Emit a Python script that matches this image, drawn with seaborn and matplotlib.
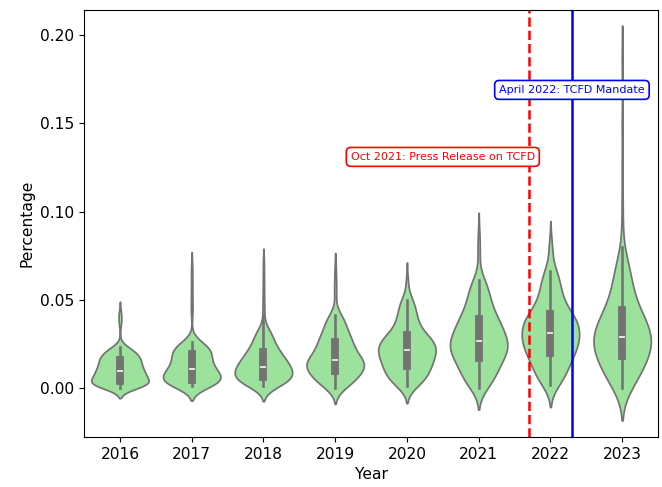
import numpy as np
import pandas as pd
import matplotlib
matplotlib.use("Agg")
import matplotlib.pyplot as plt
import seaborn as sns

years = ["2016", "2017", "2018", "2019", "2020", "2021", "2022", "2023"]

# Bulk of each year's distribution: sorted values, each standing for
# `core_weight` companies
core_weight = 4

core_2016 = [0.0000, 0.0005, 0.0009, 0.0013, 0.0017, 0.0020, 0.0024, 0.0027, 0.0030, 0.0033,
             0.0036, 0.0043, 0.0049, 0.0055, 0.0061, 0.0067, 0.0072, 0.0077, 0.0083, 0.0088,
             0.0093, 0.0099, 0.0105, 0.0111, 0.0117, 0.0124, 0.0131, 0.0138, 0.0144, 0.0152,
             0.0159, 0.0165, 0.0170, 0.0177, 0.0184, 0.0192, 0.0200, 0.0210, 0.0220, 0.0230]

core_2017 = [0.0008, 0.0013, 0.0018, 0.0022, 0.0026, 0.0030, 0.0034, 0.0037, 0.0041, 0.0044,
             0.0047, 0.0054, 0.0060, 0.0066, 0.0072, 0.0078, 0.0084, 0.0089, 0.0094, 0.0100,
             0.0105, 0.0113, 0.0120, 0.0128, 0.0137, 0.0145, 0.0153, 0.0162, 0.0171, 0.0181,
             0.0190, 0.0196, 0.0202, 0.0208, 0.0215, 0.0223, 0.0232, 0.0242, 0.0252, 0.0262]

core_2018 = [0.0008, 0.0015, 0.0022, 0.0028, 0.0034, 0.0040, 0.0045, 0.0050, 0.0055, 0.0060,
             0.0064, 0.0071, 0.0077, 0.0083, 0.0089, 0.0094, 0.0100, 0.0105, 0.0110, 0.0116,
             0.0121, 0.0128, 0.0135, 0.0142, 0.0149, 0.0156, 0.0164, 0.0172, 0.0180, 0.0188,
             0.0196, 0.0207, 0.0218, 0.0230, 0.0244, 0.0259, 0.0275, 0.0294, 0.0312, 0.0332]

core_2019 = [0.0000, 0.0013, 0.0025, 0.0035, 0.0046, 0.0055, 0.0065, 0.0074, 0.0082, 0.0090,
             0.0098, 0.0105, 0.0112, 0.0118, 0.0125, 0.0131, 0.0136, 0.0142, 0.0148, 0.0153,
             0.0159, 0.0168, 0.0178, 0.0187, 0.0197, 0.0207, 0.0218, 0.0229, 0.0239, 0.0251,
             0.0262, 0.0274, 0.0286, 0.0300, 0.0315, 0.0332, 0.0351, 0.0371, 0.0392, 0.0414]

core_2020 = [0.0008, 0.0023, 0.0037, 0.0050, 0.0062, 0.0074, 0.0085, 0.0096, 0.0106, 0.0116,
             0.0125, 0.0136, 0.0146, 0.0155, 0.0164, 0.0173, 0.0182, 0.0190, 0.0198, 0.0207,
             0.0215, 0.0222, 0.0230, 0.0238, 0.0245, 0.0254, 0.0262, 0.0270, 0.0279, 0.0288,
             0.0297, 0.0313, 0.0330, 0.0348, 0.0368, 0.0391, 0.0415, 0.0443, 0.0471, 0.0500]

core_2021 = [0.0000, 0.0022, 0.0042, 0.0060, 0.0078, 0.0095, 0.0111, 0.0126, 0.0140, 0.0155,
             0.0168, 0.0180, 0.0191, 0.0201, 0.0211, 0.0220, 0.0230, 0.0239, 0.0248, 0.0257,
             0.0266, 0.0277, 0.0288, 0.0300, 0.0312, 0.0324, 0.0336, 0.0349, 0.0362, 0.0376,
             0.0389, 0.0406, 0.0425, 0.0444, 0.0466, 0.0491, 0.0518, 0.0547, 0.0578, 0.0610]

core_2022 = [0.0017, 0.0041, 0.0063, 0.0083, 0.0102, 0.0120, 0.0138, 0.0154, 0.0170, 0.0185,
             0.0200, 0.0211, 0.0222, 0.0233, 0.0244, 0.0255, 0.0266, 0.0277, 0.0288, 0.0299,
             0.0310, 0.0321, 0.0332, 0.0343, 0.0354, 0.0365, 0.0375, 0.0386, 0.0397, 0.0408,
             0.0419, 0.0438, 0.0459, 0.0481, 0.0505, 0.0532, 0.0563, 0.0595, 0.0630, 0.0665]

core_2023 = [0.0000, 0.0024, 0.0045, 0.0065, 0.0084, 0.0102, 0.0119, 0.0136, 0.0151, 0.0167,
             0.0181, 0.0194, 0.0206, 0.0218, 0.0228, 0.0239, 0.0250, 0.0260, 0.0270, 0.0280,
             0.0290, 0.0302, 0.0314, 0.0327, 0.0339, 0.0353, 0.0366, 0.0380, 0.0394, 0.0408,
             0.0423, 0.0446, 0.0470, 0.0496, 0.0526, 0.0558, 0.0594, 0.0633, 0.0674, 0.0716]

# Individual high-share companies (outliers), one company each
tail_2016 = [0.0360, 0.0385, 0.0405, 0.0430]
tail_2017 = [0.0420, 0.0460, 0.0510, 0.0570, 0.0630, 0.0690]
tail_2018 = [0.0410, 0.0450, 0.0500, 0.0560, 0.0630, 0.0706]
tail_2019 = [0.0520, 0.0560, 0.0610, 0.0674]
tail_2020 = [0.0570, 0.0616]
tail_2021 = [0.0740, 0.0800, 0.0870]
tail_2022 = [0.0760, 0.0790, 0.0820]
tail_2023 = [0.0800, 0.0900, 0.1050, 0.1250, 0.1500, 0.1870]

cores = [core_2016, core_2017, core_2018, core_2019, core_2020, core_2021, core_2022, core_2023]
tails = [tail_2016, tail_2017, tail_2018, tail_2019, tail_2020, tail_2021, tail_2022, tail_2023]

# Event markers (positions on the categorical year axis)
press_release_pos = 5.7
mandate_pos = 6.3
press_release_label = "Oct 2021: Press Release on TCFD"
mandate_label = "April 2022: TCFD Mandate"

frames = []
for year, core, tail in zip(years, cores, tails):
    vals = np.concatenate([np.repeat(core, core_weight), tail])
    frames.append(pd.DataFrame({"Year": year, "Percentage": vals}))
df = pd.concat(frames, ignore_index=True)

plt.rcParams["font.size"] = 11.2
fig, ax = plt.subplots(figsize=(6.62, 4.87), dpi=100)
fig.subplots_adjust(left=0.127, right=0.994, bottom=0.103, top=0.979)

sns.violinplot(data=df, x="Year", y="Percentage", order=years, color="lightgreen",
               density_norm="width", bw_adjust=1.0, ax=ax)

ax.axvline(press_release_pos, color="red", linestyle="--", linewidth=1.8)
ax.axvline(mandate_pos, color="blue", linestyle="-", linewidth=1.8)

ax.text(4.5, 0.131, press_release_label, color="red", fontsize=8,
        ha="center", va="center",
        bbox=dict(boxstyle="round,pad=0.4", fc="white", ec="red", lw=1.2))
ax.text(6.3, 0.169, mandate_label, color="blue", fontsize=8,
        ha="center", va="center",
        bbox=dict(boxstyle="round,pad=0.4", fc="white", ec="blue", lw=1.2))

ax.set_ylim(-0.0278, 0.2142)
ax.set_xlim(-0.5, 7.5)
ax.set_xlabel("Year")
ax.set_ylabel("Percentage")

fig.savefig("out.png", dpi=100)
